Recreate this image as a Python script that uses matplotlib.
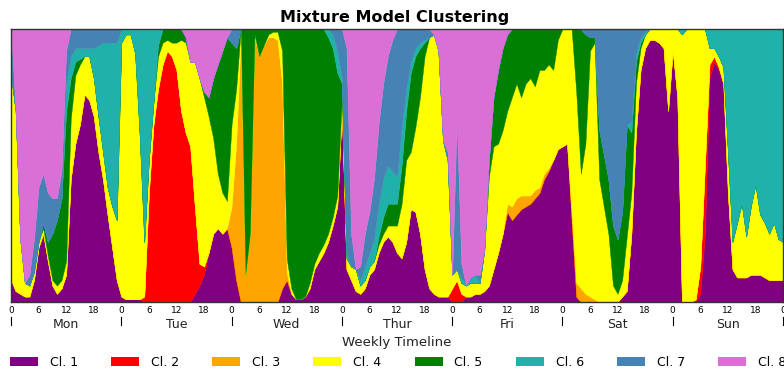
import numpy as np
import matplotlib
matplotlib.use('Agg')
import matplotlib.pyplot as plt
import matplotlib.transforms as mtransforms
from matplotlib.patches import Patch

# hourly cluster shares (percent) over one week, Mon 0h .. Sun 24h
hours = np.arange(169)
day_names = ['Mon', 'Tue', 'Wed', 'Thur', 'Fri', 'Sat', 'Sun']
hour_labels = ['0', '6', '12', '18'] * 7 + ['0']
cluster_labels = ['Cl. 1', 'Cl. 2', 'Cl. 3', 'Cl. 4', 'Cl. 5', 'Cl. 6', 'Cl. 7', 'Cl. 8']
cluster_colors = ['purple', 'red', 'orange', 'yellow', 'green',
                  'lightseagreen', 'steelblue', 'orchid']

cl1 = ([8, 4, 3, 2, 2, 8, 20, 25, 15, 6, 3, 5, 10, 45, 58, 65, 76, 74, 68, 55, 45, 32, 20, 8] +
       [2, 1, 1, 1, 1, 0, 0, 0, 0, 0, 0, 0, 0, 0, 0, 0, 3, 6, 10, 18, 25, 27, 25, 27] +
       [20, 8, 0, 0, 0, 0, 0, 0, 0, 0, 0, 5, 8, 3, 1, 1, 2, 5, 12, 15, 18, 22, 28, 35] +
       [70, 12, 8, 4, 3, 5, 10, 12, 18, 22, 24, 22, 18, 16, 22, 34, 33, 25, 12, 5, 3, 2, 2, 2] +
       [0, 0, 0, 2, 2, 3, 3, 4, 6, 12, 18, 25, 33, 30, 32, 34, 35, 36, 38, 40, 45, 48, 52, 56] +
       [57, 58, 30, 2, 0, 0, 0, 0, 0, 0, 0, 0, 0, 2, 4, 25, 62, 85, 93, 96, 96, 95, 93, 70] +
       [92, 75, 0, 0, 0, 0, 3, 25, 82, 88, 85, 80, 40, 12, 9, 9, 9, 10, 10, 10, 9, 8, 8, 8, 8])

cl2 = ([0] * 24 +
       [0, 0, 0, 0, 0, 2, 40, 65, 78, 87, 92, 90, 85, 70, 62, 57, 32, 8, 3, 0, 0, 0, 0, 0] +
       [0] * 24 +
       [0] * 24 +
       [5, 8, 3, 0, 0, 0, 0, 0, 0, 0, 0, 0, 0, 0, 0, 0, 0, 0, 0, 0, 0, 0, 0, 0] +
       [0] * 24 +
       [0, 0, 0, 0, 0, 1, 10, 25, 5, 2, 1, 0, 0, 0, 0, 0, 0, 0, 0, 0, 0, 0, 0, 0, 0])

cl3 = ([0] * 24 +
       [0] * 24 +
       [15, 50, 97, 10, 25, 97, 90, 94, 97, 97, 96, 75, 3, 0, 0, 0, 0, 0, 0, 0, 0, 0, 0, 0] +
       [0] * 24 +
       [0, 0, 0, 0, 0, 0, 0, 0, 0, 0, 0, 0, 3, 5, 6, 5, 4, 3, 3, 2, 2, 1, 0, 0] +
       [0, 0, 3, 5, 5, 3, 2, 1, 0, 0, 0, 0, 0, 0, 0, 0, 0, 0, 0, 0, 0, 0, 0, 0] +
       [0] * 25)

cl4 = ([75, 66, 20, 5, 4, 3, 2, 2, 2, 2, 3, 3, 5, 22, 25, 22, 14, 16, 14, 13, 10, 10, 15, 22] +
       [93, 97, 97, 90, 60, 20, 12, 8, 12, 8, 4, 5, 10, 26, 33, 31, 53, 68, 62, 50, 35, 20, 15, 10] +
       [30, 20, 3, 0, 0, 1, 0, 0, 1, 2, 3, 12, 5, 2, 0, 0, 0, 2, 2, 3, 3, 3, 3, 4] +
       [5, 4, 5, 8, 3, 3, 3, 3, 3, 3, 4, 6, 10, 20, 30, 21, 31, 50, 78, 92, 95, 90, 57, 50] +
       [5, 4, 4, 4, 5, 4, 4, 15, 40, 45, 40, 38, 34, 40, 42, 36, 41, 43, 38, 43, 38, 38, 33, 40] +
       [43, 42, 67, 70, 42, 55, 90, 94, 45, 35, 25, 6, 3, 6, 20, 15, 18, 8, 5, 4, 4, 5, 7, 30] +
       [8, 25, 98, 100, 100, 99, 87, 50, 6, 3, 4, 6, 15, 10, 20, 27, 15, 25, 33, 22, 20, 17, 21, 15, 14])

cl5 = ([0, 0, 0, 0, 0, 0, 0, 2, 5, 17, 24, 30, 55, 15, 5, 2, 0, 0, 0, 0, 0, 0, 0, 0] +
       [0, 0, 0, 0, 0, 0, 0, 0, 4, 5, 4, 5, 5, 4, 2, 0, 0, 0, 2, 7, 22, 40, 52, 60] +
       [30, 15, 0, 90, 75, 2, 10, 6, 2, 1, 1, 8, 84, 95, 99, 99, 98, 93, 86, 82, 79, 72, 62, 45] +
       [5, 0, 0, 0, 0, 0, 0, 0, 3, 6, 8, 8, 8, 14, 18, 29, 26, 18, 5, 0, 0, 0, 0, 0] +
       [0, 0, 0, 0, 0, 0, 0, 0, 6, 18, 27, 30, 28, 25, 20, 25, 20, 18, 21, 15, 15, 13, 15, 4] +
       [0, 0, 0, 23, 53, 40, 5, 2, 18, 19, 20, 22, 20, 25, 41, 22, 8, 2, 0, 0, 0, 0, 0, 0] +
       [0] * 25)

cl6 = ([0, 0, 0, 0, 0, 0, 0, 0, 0, 0, 0, 0, 10, 8, 5, 4, 3, 3, 11, 26, 40, 53, 60, 65] +
       [5, 2, 2, 9, 39, 78, 48, 27, 6, 0, 0, 0, 0, 0, 0, 0, 0, 0, 0, 0, 0, 0, 0, 0] +
       [0, 0, 0, 0, 0, 0, 0, 0, 0, 0, 0, 0, 0, 0, 0, 0, 0, 0, 0, 0, 0, 3, 5, 8] +
       [2, 2, 0, 0, 2, 5, 5, 8, 12, 14, 14, 12, 10, 14, 8, 4, 3, 2, 1, 0, 0, 0, 0, 0] +
       [0, 0, 2, 0, 2, 3, 0, 0, 0, 0, 0, 0, 0, 0, 0, 0, 0, 0, 0, 0, 0, 0, 0, 0] +
       [0, 0, 0, 0, 0, 0, 0, 0, 0, 0, 0, 0, 0, 0, 0, 4, 3, 2, 1, 0, 0, 0, 0, 0] +
       [0, 0, 2, 0, 0, 0, 0, 0, 7, 7, 10, 14, 45, 78, 71, 64, 76, 65, 57, 68, 71, 75, 71, 77, 78])

cl7 = ([17, 0, 0, 0, 4, 12, 20, 18, 18, 13, 8, 10, 12, 10, 7, 7, 7, 7, 7, 6, 5, 5, 5, 5] +
       [0] * 24 +
       [5, 7, 0, 0, 0, 0, 0, 0, 0, 0, 0, 0, 0, 0, 0, 0, 0, 0, 0, 0, 0, 0, 2, 8] +
       [18, 75, 12, 0, 5, 12, 15, 22, 29, 35, 40, 48, 54, 36, 22, 12, 7, 5, 4, 3, 0, 0, 0, 3] +
       [0, 55, 5, 0, 0, 0, 3, 0, 0, 0, 0, 0, 0, 0, 0, 0, 0, 0, 0, 0, 0, 0, 0, 0] +
       [0, 0, 0, 0, 0, 2, 3, 3, 37, 46, 55, 72, 77, 67, 35, 34, 9, 3, 1, 0, 0, 0, 0, 0] +
       [0] * 25)

cl8 = ([0, 30, 77, 93, 90, 77, 58, 53, 60, 62, 62, 52, 8, 0, 0, 0, 0, 0, 0, 0, 0, 0, 0, 0] +
       [0, 0, 0, 0, 0, 0, 0, 0, 0, 0, 0, 0, 0, 0, 3, 12, 12, 18, 23, 25, 18, 13, 8, 3] +
       [0] * 24 +
       [0, 7, 75, 88, 87, 75, 67, 55, 35, 20, 10, 4, 0, 0, 0, 0, 0, 0, 0, 0, 2, 8, 41, 45] +
       [90, 33, 86, 94, 91, 90, 90, 81, 48, 25, 15, 7, 2, 0, 0, 0, 0, 0, 0, 0, 0, 0, 0, 0] +
       [0] * 24 +
       [0] * 25)

shares = np.array([cl1, cl2, cl3, cl4, cl5, cl6, cl7, cl8], dtype=float)
shares = shares / shares.sum(axis=0)

fig = plt.figure(figsize=(7.84, 3.70), dpi=100)
ax = fig.add_axes([11 / 784, 68 / 370, 772 / 784, 273 / 370])

polys = ax.stackplot(hours, shares, colors=cluster_colors, linewidth=0)
for p, c in zip(polys, cluster_colors):
    p.set_edgecolor(c)
    p.set_linewidth(0.3)

ax.set_xlim(0, 168)
ax.set_ylim(0, 1)
ax.set_yticks([])
for s in ax.spines.values():
    s.set_color('#333333')
    s.set_linewidth(1.0)

# hour labels under the axis, small inward ticks at noon
ax.set_xticks(np.arange(0, 169, 6))
ax.set_xticklabels(hour_labels)
ax.tick_params(axis='x', which='major', length=0, labelsize=6.5, pad=3)
ax.set_xticks(np.arange(12, 168, 24), minor=True)
ax.tick_params(axis='x', which='minor', direction='in', length=4, width=0.8,
               top=True, bottom=True, color='black')

trans = mtransforms.blended_transform_factory(ax.transData, ax.transAxes)
for d, name in enumerate(day_names):
    ax.text(24 * d + 12, -0.084, name, transform=trans, ha='center', va='center',
            fontsize=9, color='#222222')
for d in range(8):
    ax.plot([24 * d, 24 * d], [-0.055, -0.085], transform=trans, clip_on=False,
            color='black', lw=0.8)

fig.text(397 / 784, 0.073, 'Weekly Timeline', ha='center', va='center',
         fontsize=9.5, color='#222222')
fig.text(395 / 784, 0.954, 'Mixture Model Clustering', ha='center', va='center',
         fontsize=11.5, fontweight='bold')

handles = [Patch(facecolor=c, edgecolor='none') for c in cluster_colors]
fig.legend(handles, cluster_labels, ncol=8, loc='center left',
           bbox_to_anchor=(10 / 784, 8 / 370), frameon=False, fontsize=9,
           handlelength=2.24, handleheight=0.75, handletextpad=0.96,
           columnspacing=2.64, borderaxespad=0, borderpad=0)

fig.savefig('out.png', dpi=100)
